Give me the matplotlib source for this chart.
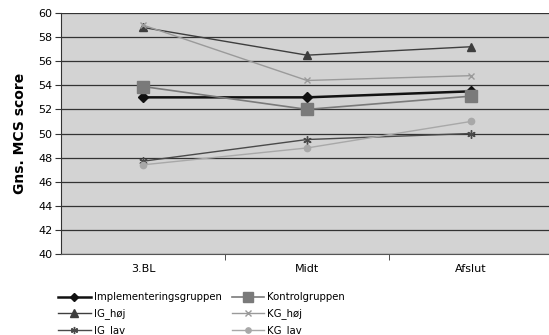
import matplotlib
matplotlib.use("Agg")
import matplotlib.pyplot as plt
from matplotlib.lines import Line2D

categories = ["3.BL", "Midt", "Afslut"]
implementering = [53.0, 53.0, 53.5]
kontrol = [53.9, 52.0, 53.1]
ig_hoej = [58.8, 56.5, 57.2]
kg_hoej = [59.0, 54.4, 54.8]
ig_lav = [47.7, 49.5, 50.0]
kg_lav = [47.4, 48.8, 51.0]
y_ticks = list(range(40, 61, 2))

W, H = 549, 335
fig = plt.figure(figsize=(W / 100, H / 100), dpi=100)
ax = fig.add_axes([61 / W, 1 - 254 / H, 492 / W, (254 - 13) / H])
ax.set_facecolor("#d3d3d3")

x = list(range(len(categories)))
series = [
    ("Implementeringsgruppen", implementering, "#111111", 1.8, "D", 5, "#111111"),
    ("Kontrolgruppen", kontrol, "#7a7a7a", 1.2, "s", 8, "#7a7a7a"),
    ("IG_høj", ig_hoej, "#3e3e3e", 1.0, "^", 6, "#3e3e3e"),
    ("KG_høj", kg_hoej, "#9a9a9a", 1.0, "x", 5, "#9a9a9a"),
    ("IG_lav", ig_lav, "#4a4a4a", 1.0, (6, 2, 0), 6, "#4a4a4a"),
    ("KG_lav", kg_lav, "#a8a8a8", 1.0, "o", 4.5, "#a8a8a8"),
]
handles = []
for name, vals, col, lw, mk, ms, mc in series:
    ax.plot(x, vals, color=col, lw=lw, marker=mk, ms=ms, mfc=mc, mec=mc,
            mew=1.0, zorder=3)
    lms = ms * 0.85
    handles.append(Line2D([0], [0], color=col, lw=lw, marker=mk, ms=lms,
                          mfc=mc, mec=mc, mew=1.0, label=name))

ax.set_xlim(-0.5, 2.5)
ax.set_ylim(40, 60)
ax.set_yticks(y_ticks)
ax.set_yticklabels([str(t) for t in y_ticks], fontsize=8)
ax.grid(axis="y", color="#333333", lw=0.9, zorder=1)
ax.set_axisbelow(True)
ax.set_xticks(x)
ax.set_xticklabels(categories, fontsize=8)
ax.set_xticks([0.5, 1.5], minor=True)
ax.tick_params(axis="x", which="major", length=0, pad=7)
ax.tick_params(axis="x", which="minor", length=4, direction="out", color="#333333")
ax.tick_params(axis="y", length=4, direction="out", color="#333333", pad=2)
for s in ["top", "right"]:
    ax.spines[s].set_visible(False)
ax.spines["left"].set_color("#333333")
ax.spines["bottom"].set_color("#555555")
ax.set_ylabel("Gns. MCS score", fontsize=10, fontweight="bold", labelpad=8)

order = [handles[0], handles[2], handles[4], handles[1], handles[3], handles[5]]
fig.legend(handles=order, loc="upper left", bbox_to_anchor=(54 / W, 1 - 288 / H),
           ncol=2, frameon=False, fontsize=7.3, handlelength=3.2,
           handletextpad=0.3, columnspacing=1.0, labelspacing=0.6,
           borderaxespad=0)

fig.savefig("out.png", dpi=100)
